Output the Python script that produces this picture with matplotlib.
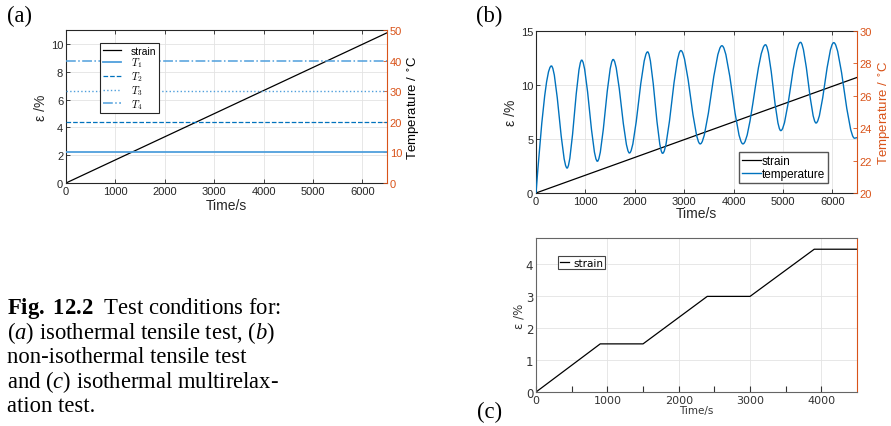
import numpy as np
import matplotlib
matplotlib.use("Agg")
import matplotlib.pyplot as plt
from matplotlib.path import Path
from matplotlib.patches import PathPatch
from matplotlib.font_manager import FontProperties

plt.rcParams['mathtext.fontset'] = 'custom'
plt.rcParams['mathtext.rm'] = 'Liberation Serif'
plt.rcParams['mathtext.it'] = 'Liberation Serif:italic'
plt.rcParams['mathtext.bf'] = 'Liberation Serif:bold'

# --- data ---
# (a) isothermal tensile test
time_a = [0, 6500]
strain_a = [0, 10.8]
temp_levels = [10, 20, 30, 40]
temp_labels = ['$T_1$', '$T_2$', '$T_3$', '$T_4$']

# (b) non-isothermal tensile test (temperature extrema)
time_b = [0, 6500]
strain_b = [0, 10.7]
temp_t = [0, 311, 629, 925, 1242, 1562, 1892, 2259, 2563, 2933, 3325,
          3764, 4190, 4646, 4956, 5355, 5670, 6028, 6450, 6500]
temp_v = [20.0, 27.84, 21.54, 28.2, 21.96, 28.24, 22.47, 28.71, 22.45, 28.79, 23.03,
          29.09, 23.03, 29.15, 23.85, 29.3, 24.32, 29.28, 23.38, 23.42]

# (c) multirelaxation test
time_c = [0, 900, 1500, 2400, 3000, 3900, 4500]
strain_c = [0, 1.5, 1.5, 2.98, 2.98, 4.45, 4.45]

BLUE = '#0072BD'
LBLUE = '#4f9fdc'
ORANGE = '#D95319'
DARK = '#262626'
GRID = '#e3e3e3'

fig = plt.figure(figsize=(8.91, 4.27), dpi=100)


def matlab_style(ax, right_ax):
    for s in ['left', 'top', 'bottom']:
        ax.spines[s].set_color(DARK)
    ax.spines['right'].set_visible(False)
    ax.tick_params(direction='in', length=3, width=0.6, top=True, colors=DARK,
                   labelsize=8, pad=2)
    ax.grid(True, color=GRID, lw=0.6)
    ax.set_axisbelow(True)
    for s in ['left', 'top', 'bottom']:
        right_ax.spines[s].set_visible(False)
    right_ax.spines['right'].set_color(ORANGE)
    right_ax.tick_params(direction='in', length=3, width=0.6, colors=ORANGE,
                         labelsize=8, pad=2)
    for lab in ax.get_xticklabels() + ax.get_yticklabels():
        lab.set_family('Liberation Sans')
    for lab in right_ax.get_yticklabels():
        lab.set_family('Liberation Sans')


# ---------------- (a) ----------------
axa = fig.add_axes([0.0741, 0.5691, 0.3603, 0.3583])
axa2 = axa.twinx()
axa.plot(time_a, strain_a, color='black', lw=0.9, label='strain')
styles = [('-', LBLUE, 1.3), ('--', BLUE, 0.9), (':', LBLUE, 1.0), ('-.', LBLUE, 1.1)]
handles = [axa.lines[0]]
for lev, lab, (ls, c, lw) in zip(temp_levels, temp_labels, styles):
    h, = axa2.plot([0, 6500], [lev, lev], ls=ls, color=c, lw=lw, label=lab)
    handles.append(h)
axa.set_xlim(0, 6500)
axa.set_ylim(0, 11)
axa2.set_ylim(0, 50)
axa.set_xticks(np.arange(0, 6001, 1000))
axa.set_yticks(np.arange(0, 11, 2))
axa2.set_yticks(np.arange(0, 51, 10))
matlab_style(axa, axa2)
axa.set_xlabel('Time/s', family='Liberation Sans', fontsize=10, labelpad=1.5, color=DARK)
axa.set_ylabel('ε /%', family='Liberation Sans', fontsize=10, labelpad=2, color=DARK)
axa2.set_ylabel('Temperature / $^{\\circ}$C', family='Liberation Sans', fontsize=9.5,
                labelpad=3, color='black', math_fontfamily='dejavusans')
leg = axa2.legend(handles, [h.get_label() for h in handles], loc='upper left',
                  bbox_to_anchor=(0.106, 0.915), borderaxespad=0, fancybox=False,
                  framealpha=1, edgecolor=DARK, handlelength=1.8, handletextpad=0.9,
                  labelspacing=0.0, borderpad=0.25,
                  prop=FontProperties(family='Liberation Sans', size=7.5, math_fontfamily='cm'))
leg.get_frame().set_linewidth(0.8)

# ---------------- (b) ----------------
axb = fig.add_axes([0.6016, 0.5457, 0.3603, 0.3794])
axb2 = axb.twinx()
lb, = axb.plot(time_b, strain_b, color='black', lw=0.9, label='strain')
# temperature: smooth curve through the read extrema, drawn as Bezier path
verts = [(temp_t[0], temp_v[0])]
codes = [Path.MOVETO]
for i in range(len(temp_t) - 1):
    t0, v0, t1, v1 = temp_t[i], temp_v[i], temp_t[i + 1], temp_v[i + 1]
    dt = t1 - t0
    if i == 0:
        c1 = (t0 + dt / 3, v0 + (v1 - v0) * np.pi / 6)
    else:
        c1 = (t0 + dt / 3, v0)
    c2 = (t1 - dt / 3, v1)
    verts += [c1, c2, (t1, v1)]
    codes += [Path.CURVE4] * 3
axb2.add_patch(PathPatch(Path(verts, codes), fill=False, edgecolor=BLUE, lw=1.0))
ltemp, = axb2.plot([], [], color=BLUE, lw=1.0, label='temperature')
axb.set_xlim(0, 6500)
axb.set_ylim(0, 15)
axb2.set_ylim(20, 30)
axb.set_xticks(np.arange(0, 6001, 1000))
axb.set_yticks([0, 5, 10, 15])
axb2.set_yticks(np.arange(20, 31, 2))
matlab_style(axb, axb2)
axb.set_xlabel('Time/s', family='Liberation Sans', fontsize=10, labelpad=0, color=DARK)
axb.set_ylabel('ε /%', family='Liberation Sans', fontsize=10, labelpad=2, color=DARK)
axb2.set_ylabel('Temperature / $^{\\circ}$C', family='Liberation Sans', fontsize=9.5,
                labelpad=3, color=ORANGE, math_fontfamily='dejavusans')
legb = axb2.legend([lb, ltemp], ['strain', 'temperature'], loc='lower right',
                   bbox_to_anchor=(0.9097, 0.0617), borderaxespad=0, fancybox=False,
                   framealpha=1, edgecolor='#555555', handlelength=1.6, handletextpad=0.1,
                   labelspacing=0.1, borderpad=0.25,
                   prop=FontProperties(family='Liberation Sans', size=8.5))
legb.get_frame().set_linewidth(1.0)

# ---------------- (c) ----------------
axc = fig.add_axes([0.6016, 0.0796, 0.3603, 0.3607])
axc.plot(time_c, strain_c, color='black', lw=0.9, label='strain')
axc.set_xlim(0, 4500)
axc.set_ylim(0, 4.8)
axc.set_xticks(np.arange(0, 4001, 1000))
axc.set_xticks(np.arange(500, 4500, 1000), minor=True)
axc.set_yticks(np.arange(0, 5, 1))
for s in ['left', 'top', 'bottom']:
    axc.spines[s].set_color('#666666')
axc.spines['right'].set_color(ORANGE)
axc.tick_params(which='both', direction='in', length=4, width=0.8, colors='#333333',
                labelsize=8, pad=2)
axc.tick_params(axis='y', length=0, labelsize=8.5)
axc.grid(True, color=GRID, lw=0.6)
axc.set_axisbelow(True)
axc.set_xlabel('Time/s', fontsize=7.5, labelpad=0.5, color='#333333')
axc.set_ylabel('ε /%', fontsize=8.5, labelpad=0.5, color='#333333')
legc = axc.legend(loc='upper left', bbox_to_anchor=(0.0685, 0.883), borderaxespad=0,
                  fancybox=False, framealpha=1, edgecolor='#444444', handlelength=0.9,
                  handletextpad=0.4, borderpad=0.15, fontsize=7.5)
legc.get_frame().set_linewidth(0.8)

# ---------------- labels and caption ----------------
serif = dict(family='Liberation Serif', fontsize=16.3, color='black')
fig.text(7 / 891, 1 - 16 / 427, '(a)', va='center', ha='left', **serif)
fig.text(476 / 891, 1 - 16 / 427, '(b)', va='center', ha='left', **serif)
fig.text(477 / 891, 1 - 412 / 427, '(c)', va='center', ha='left', **serif)

caption = [r'$\mathbf{Fig.\ 12.2}$  Test conditions for:',
           r'($\mathit{a}$) isothermal tensile test, ($\mathit{b}$)',
           'non-isothermal tensile test',
           r'and ($\mathit{c}$) isothermal multirelax-',
           'ation test.']
for i, line in enumerate(caption):
    fig.text(7 / 891, 1 - (314 + 24.6 * i) / 427, line, va='baseline', ha='left', **serif)

fig.savefig('out.png', dpi=100)
